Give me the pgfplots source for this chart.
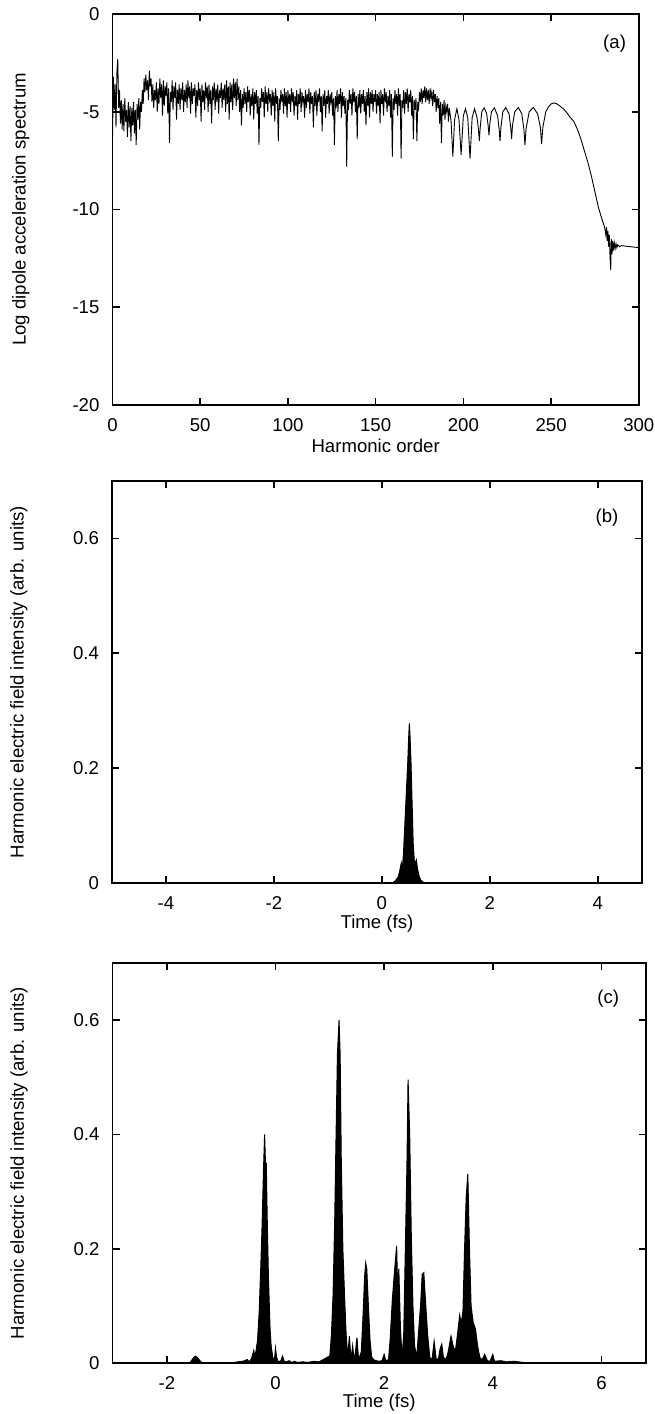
\documentclass[border=0pt]{standalone}
\usepackage{pgfplots}
\pgfplotsset{compat=1.18}
\usepackage{fontspec}
\setmainfont{Liberation Sans}
\begin{document}
\begin{tikzpicture}
\pgfplotsset{
  every axis/.append style={
    scale only axis,
    anchor=south west,
    font=\fontsize{9.3}{11}\selectfont,
    axis line style={line width=0.8pt},
    tick style={line width=0.8pt, black},
    tick align=inside,
    major tick length=3.5pt,
    xtick pos=both, ytick pos=both,
    /pgf/number format/assume math mode=true,
    xticklabel style={yshift=-3.2pt},
    yticklabel style={xshift=-3pt},
    xlabel style={at={(axis description cs:0.5,0)}, anchor=center},
    minor tick num=0,
  },
}
\useasboundingbox (0,0) rectangle (327pt,-707pt);
% ---------------- panel (a)
\begin{axis}[at={(56.25pt,-202.5pt)}, width=263.15pt, height=195.5pt,
  xmin=0, xmax=300, ymin=-20, ymax=0,
  xtick={0,50,...,300}, ytick={-20,-15,...,0},
  xlabel={Harmonic order}, xlabel style={yshift=-20.5pt},
  ylabel={Log dipole acceleration spectrum},
  ylabel style={at={(axis description cs:-0.174,0.5)}, anchor=center}]
\addplot[black, line width=0.45pt] coordinates {
(0,-6.4)(0.5,-3.2)(1,-4.9)(1.5,-3.6)(2,-5.8)(2.5,-3.0)(3,-2.3)(3.5,-4.8)(4,-3.9)(4.5,-5.6)
(5,-4.4)(5.5,-5.9)(6,-4.6)(6.5,-6.0)(7,-4.3)(7.5,-5.5)(8,-4.9)(8.5,-6.3)(9,-4.5)(9.5,-5.8)
(10,-4.7)(10.5,-6.5)(11,-4.8)(11.5,-5.7)(12,-4.5)(12.5,-6.1)(13,-4.9)(13.5,-6.7)(14,-4.6)(14.5,-5.4)
(15,-4.3)(15.5,-5.9)(16,-4.5)(16.5,-5.0)(17,-3.9)(17.5,-4.6)(18,-3.3)(18.5,-4.0)(19,-3.1)(19.5,-3.9)
(20,-3.4)(20.5,-4.4)(21,-2.9)(21.5,-3.7)(22,-3.3)(22.5,-4.5)(23,-3.6)(23.5,-4.8)(24,-3.9)(24.5,-4.4)
(25,-3.5)(25.5,-5.0)(26,-3.8)(26.5,-4.6)(27,-3.3)(27.5,-4.3)(28,-3.6)(28.5,-5.2)(29,-3.4)(29.5,-4.7)
(30,-3.7)(30.5,-4.2)(31,-3.5)(31.5,-5.1)(32,-3.8)(32.5,-6.6)(33,-4.0)(33.5,-4.5)(34,-3.4)(34.5,-4.9)
(35,-3.7)(35.5,-4.3)(36,-3.5)(36.5,-5.4)(37,-3.9)(37.5,-4.6)(38,-3.6)(38.5,-4.9)(39,-3.8)(39.5,-4.4)
(40,-3.5)(40.5,-5.0)(41,-3.9)(41.5,-4.5)(42,-3.6)(42.5,-4.8)(43,-3.4)(43.5,-4.3)(44,-3.7)(44.5,-5.1)
(45,-3.5)(45.5,-4.6)(46,-3.8)(46.5,-4.2)(47,-3.6)(47.5,-5.3)(48,-3.9)(48.5,-4.7)(49,-3.5)(49.5,-4.4)
(50,-3.8)(50.5,-5.5)(51,-3.6)(51.5,-4.5)(52,-3.9)(52.5,-4.9)(53,-3.5)(53.5,-4.3)(54,-3.7)(54.5,-5.0)
(55,-3.6)(55.5,-4.6)(56,-3.9)(56.5,-5.6)(57,-3.7)(57.5,-4.4)(58,-3.5)(58.5,-4.9)(59,-3.8)(59.5,-4.5)
(60,-3.6)(60.5,-5.1)(61,-3.9)(61.5,-4.3)(62,-3.5)(62.5,-4.8)(63,-3.8)(63.5,-4.4)(64,-3.6)(64.5,-5.0)
(65,-3.4)(65.5,-4.6)(66,-3.7)(66.5,-5.4)(67,-3.5)(67.5,-4.5)(68,-3.6)(68.5,-4.9)(69,-3.3)(69.5,-4.3)
(70,-3.5)(70.5,-4.7)(71,-3.3)(71.5,-4.4)(72,-3.7)(72.5,-5.0)(73,-3.9)(73.5,-5.7)(74,-4.1)(74.5,-4.8)
(75,-3.8)(75.5,-4.6)(76,-4.0)(76.5,-5.0)(77,-3.7)(77.5,-4.5)(78,-3.9)(78.5,-5.2)(79,-4.1)(79.5,-4.7)
(80,-3.8)(80.5,-5.4)(81,-4.0)(81.5,-4.6)(82,-3.9)(82.5,-5.1)(83,-4.2)(83.5,-6.7)(84,-4.3)(84.5,-4.8)
(85,-3.8)(85.5,-4.5)(86,-4.0)(86.5,-5.3)(87,-3.7)(87.5,-4.6)(88,-4.0)(88.5,-5.0)(89,-3.8)(89.5,-4.4)
(90,-4.1)(90.5,-5.2)(91,-3.9)(91.5,-4.7)(92,-4.0)(92.5,-5.5)(93,-3.8)(93.5,-4.6)(94,-4.2)(94.5,-6.5)
(95,-4.3)(95.5,-4.9)(96,-3.9)(96.5,-4.5)(97,-4.1)(97.5,-5.1)(98,-3.8)(98.5,-4.7)(99,-4.0)(99.5,-5.3)
(100,-3.9)(100.5,-4.6)(101,-4.1)(101.5,-5.0)(102,-3.8)(102.5,-4.5)(103,-4.0)(103.5,-5.2)(104,-4.2)(104.5,-4.7)
(105,-3.9)(105.5,-5.4)(106,-4.1)(106.5,-4.6)(107,-3.8)(107.5,-5.0)(108,-4.0)(108.5,-4.5)(109,-4.2)(109.5,-5.3)
(110,-3.9)(110.5,-4.8)(111,-4.1)(111.5,-4.5)(112,-3.8)(112.5,-5.1)(113,-4.0)(113.5,-4.6)(114,-4.2)(114.5,-5.8)
(115,-4.0)(115.5,-4.7)(116,-3.9)(116.5,-5.2)(117,-4.1)(117.5,-4.5)(118,-3.8)(118.5,-5.0)(119,-4.2)(119.5,-6.0)
(120,-4.1)(120.5,-4.7)(121,-3.9)(121.5,-5.3)(122,-4.2)(122.5,-4.6)(123,-3.9)(123.5,-5.1)(124,-4.1)(124.5,-4.5)
(125,-4.0)(125.5,-5.2)(126,-4.3)(126.5,-6.7)(127,-4.2)(127.5,-4.8)(128,-3.9)(128.5,-5.0)(129,-4.1)(129.5,-4.6)
(130,-3.8)(130.5,-5.3)(131,-4.0)(131.5,-4.7)(132,-4.2)(132.5,-5.1)(133,-4.3)(133.5,-7.8)(134,-4.4)(134.5,-4.9)
(135,-3.9)(135.5,-4.6)(136,-4.1)(136.5,-5.2)(137,-3.8)(137.5,-4.5)(138,-4.0)(138.5,-5.0)(139,-4.2)(139.5,-6.4)
(140,-4.1)(140.5,-4.8)(141,-3.9)(141.5,-5.1)(142,-4.1)(142.5,-4.6)(143,-3.9)(143.5,-5.0)(144,-4.2)(144.5,-5.7)
(145,-4.0)(145.5,-4.7)(146,-3.8)(146.5,-5.3)(147,-4.0)(147.5,-4.6)(148,-3.9)(148.5,-5.0)(149,-4.1)(149.5,-4.5)
(150,-3.9)(150.5,-5.1)(151,-4.1)(151.5,-4.7)(152,-4.0)(152.5,-5.6)(153,-3.9)(153.5,-4.6)(154,-4.1)(154.5,-5.2)
(155,-3.8)(155.5,-4.5)(156,-4.0)(156.5,-5.0)(157,-4.2)(157.5,-4.7)(158,-3.9)(158.5,-5.3)(159,-4.1)(159.5,-7.3)
(160,-4.3)(160.5,-4.9)(161,-3.9)(161.5,-4.6)(162,-4.1)(162.5,-5.2)(163,-3.8)(163.5,-4.7)(164,-4.1)(164.5,-7.4)
(165,-4.4)(165.5,-4.8)(166,-3.9)(166.5,-5.1)(167,-4.0)(167.5,-4.6)(168,-3.8)(168.5,-5.0)(169,-4.1)(169.5,-4.5)
(170,-3.9)(170.5,-5.2)(171,-4.2)(171.5,-6.4)(172,-4.4)(172.5,-4.9)(173,-4.3)(173.5,-6.5)(174,-4.5)(174.5,-4.8)
(175,-4.0)(175.5,-4.5)(176,-3.8)(176.5,-4.6)(177,-3.9)(177.5,-4.3)(178,-3.7)(178.5,-4.5)(179,-3.8)(179.5,-4.4)
(180,-3.9)(180.5,-4.6)(181,-3.8)(181.5,-4.3)(182,-4.0)(182.5,-4.7)(183,-3.9)(183.5,-4.5)(184,-4.1)(184.5,-5.0)
(185,-4.2)(185.5,-4.8)(186,-4.3)(186.5,-5.6)(187,-4.5)(187.5,-6.6)(188,-4.6)(188.5,-5.2)(189,-4.4)(189.5,-5.4)
(190,-4.7)(190.5,-5.0)(191,-4.6)(191.5,-5.5)(192,-4.8)(193,-5.5)(194,-7.3)(195,-5.4)(196.3,-4.85)(197.5,-5.4)
(198.7,-7.2)(200,-5.2)(201.2,-4.85)(202.5,-5.3)(203.8,-7.4)(205,-5.3)(206.4,-4.85)(207.8,-5.3)(208.6,-5.9)(209.1,-6.5)
(209.6,-5.8)(210.5,-5.0)(211.9,-4.8)(213.3,-5.1)(214.1,-5.7)(214.6,-6.2)(215.1,-5.6)(216,-5.0)(217.7,-4.8)(219.5,-5.2)
(220.4,-5.9)(220.9,-6.5)(221.4,-5.8)(222.5,-5.0)(224.2,-4.78)(226,-5.1)(227,-5.8)(227.5,-6.4)(228,-5.7)(229.3,-5.0)
(231.3,-4.78)(233.3,-5.1)(234.5,-5.9)(235.1,-6.7)(235.7,-5.9)(237.5,-5.0)(239.9,-4.78)(242.3,-5.1)(243.9,-5.8)(244.6,-6.65)
(245.3,-5.8)(247,-5.0)(248.5,-4.75)(250,-4.6)(251.5,-4.55)(253,-4.58)(255,-4.7)(257,-4.85)(259,-5.05)(261,-5.3)
(263,-5.5)(265,-5.9)(267,-6.4)(269,-7.0)(271,-7.6)(273,-8.3)(275,-9.1)(277,-9.9)(279,-10.5)(280.5,-10.9)
(281.2,-11.3)(281.6,-10.9)(282,-11.6)(282.4,-11.1)(282.8,-11.9)(283.2,-11.3)(283.6,-12.4)(284,-13.1)(284.3,-11.5)(284.7,-12.3)
(285.1,-11.6)(285.5,-12.1)(286,-11.7)(286.5,-12.0)(287,-11.75)(287.5,-11.95)(288,-11.8)(289,-11.9)(290,-11.85)(295,-11.9)
(300,-11.95)
};
\node at (rel axis cs:0.954,0.925) {(a)};
\end{axis}
% ---------------- panel (b)
\begin{axis}[at={(56pt,-441.5pt)}, width=265pt, height=201pt,
  xmin=-5, xmax=4.82, ymin=0, ymax=0.7,
  xtick={-4,-2,0,2,4}, ytick={0,0.2,0.4,0.6},
  xlabel={Time (fs)}, xlabel style={yshift=-20.3pt},
  ylabel={Harmonic electric field intensity (arb. units)},
  ylabel style={at={(axis description cs:-0.176,0.5)}, anchor=center}]
\addplot[black, fill=black, line width=0.5pt] coordinates {
(-5,0)(0.20,0)(0.25,0.004)(0.30,0.01)(0.33,0.02)(0.36,0.035)(0.38,0.025)(0.40,0.05)(0.42,0.09)
(0.45,0.15)(0.48,0.21)(0.50,0.26)(0.51,0.278)(0.52,0.26)(0.54,0.21)(0.56,0.14)(0.58,0.07)
(0.60,0.04)(0.62,0.035)(0.64,0.04)(0.66,0.025)(0.69,0.012)(0.72,0.005)(0.76,0.002)(0.78,0)(4.82,0)
} \closedcycle;
\node at (rel axis cs:0.934,0.910) {(b)};
\end{axis}
% ---------------- panel (c)
\begin{axis}[at={(56.25pt,-681.5pt)}, width=266.75pt, height=200pt,
  xmin=-3, xmax=6.82, ymin=0, ymax=0.7,
  xtick={-2,0,2,4,6}, ytick={0,0.2,0.4,0.6},
  xlabel={Time (fs)}, xlabel style={yshift=-20pt},
  ylabel={Harmonic electric field intensity (arb. units)},
  ylabel style={at={(axis description cs:-0.175,0.5)}, anchor=center}]
\addplot[black, fill=black, line width=0.5pt] coordinates {
(-3,0)(-1.60,0)(-1.56,0.002)(-1.52,0.008)(-1.48,0.012)(-1.44,0.010)(-1.40,0.005)(-1.36,0.001)(-1.30,0)
(-0.80,0)(-0.70,0.002)(-0.60,0.003)(-0.52,0.006)(-0.48,0.002)(-0.44,0.008)(-0.40,0.022)(-0.38,0.012)
(-0.36,0.02)(-0.33,0.04)(-0.30,0.09)(-0.27,0.17)(-0.25,0.23)(-0.22,0.34)(-0.20,0.40)(-0.185,0.35)
(-0.17,0.35)(-0.15,0.24)(-0.13,0.15)(-0.10,0.06)(-0.08,0.03)(-0.05,0.01)(-0.02,0.004)(0.00,0.026)
(0.02,0.01)(0.05,0.002)(0.10,0.004)(0.13,0.012)(0.16,0.003)(0.20,0.002)(0.25,0.004)(0.30,0.001)
(0.35,0.003)(0.40,0.001)(0.5,0.002)(0.6,0.001)(0.7,0.003)(0.8,0.002)(0.88,0.006)(0.95,0.01)
(1.00,0.012)(1.03,0.05)(1.06,0.12)(1.09,0.25)(1.11,0.37)(1.14,0.54)(1.17,0.60)(1.19,0.54)
(1.21,0.36)(1.24,0.2)(1.27,0.12)(1.30,0.05)(1.33,0.01)(1.36,0.047)(1.39,0.005)(1.42,0.03)
(1.45,0.002)(1.50,0.044)(1.53,0.005)(1.58,0.02)(1.61,0.08)(1.64,0.15)(1.66,0.175)(1.68,0.165)
(1.71,0.10)(1.74,0.04)(1.77,0.01)(1.82,0.005)(1.90,0.003)(1.96,0.004)(2.00,0.015)(2.03,0.004)
(2.08,0.006)(2.11,0.04)(2.15,0.11)(2.19,0.16)(2.23,0.205)(2.25,0.12)(2.27,0.165)(2.30,0.06)
(2.33,0.01)(2.36,0.05)(2.39,0.2)(2.42,0.35)(2.44,0.496)(2.47,0.40)(2.50,0.22)(2.53,0.10)
(2.56,0.03)(2.60,0.01)(2.63,0.05)(2.67,0.10)(2.70,0.155)(2.73,0.158)(2.76,0.11)(2.80,0.05)
(2.84,0.01)(2.88,0.005)(2.92,0.038)(2.96,0.005)(3.00,0.008)(3.03,0.025)(3.06,0.033)(3.09,0.01)
(3.14,0.006)(3.18,0.02)(3.23,0.047)(3.27,0.03)(3.31,0.02)(3.35,0.05)(3.39,0.084)(3.42,0.07)
(3.45,0.09)(3.48,0.2)(3.51,0.29)(3.54,0.331)(3.57,0.20)(3.60,0.10)(3.64,0.07)(3.68,0.06)
(3.72,0.03)(3.76,0.01)(3.80,0.005)(3.85,0.015)(3.90,0.004)(3.95,0.003)(4.00,0.015)(4.03,0.003)
(4.15,0.004)(4.25,0.002)(4.40,0.003)(4.55,0.001)(4.70,0)(6.82,0)
} \closedcycle;
\node at (rel axis cs:0.929,0.912) {(c)};
\end{axis}
\end{tikzpicture}
\end{document}
